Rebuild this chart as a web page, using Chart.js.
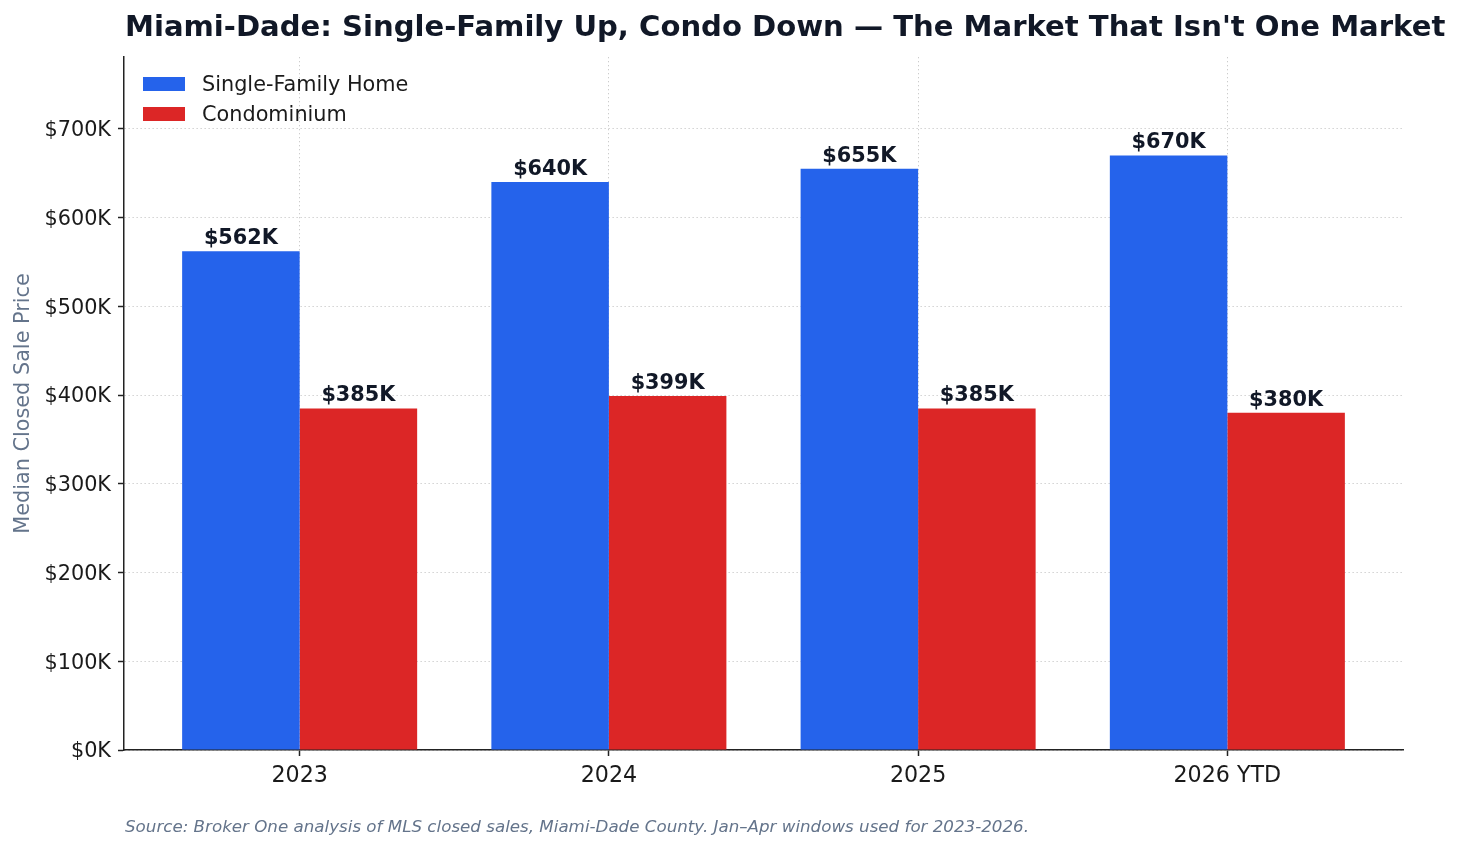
<!DOCTYPE html>
<html>
<head>
<meta charset="utf-8">
<script src="https://cdn.jsdelivr.net/npm/chart.js@4/dist/chart.umd.min.js"></script>
<style>
  html, body { margin: 0; padding: 0; background: #fff; }
  #wrap { width: 1462px; height: 852px; }
</style>
</head>
<body>
<div id="wrap"><canvas id="chart" width="1462" height="852"></canvas></div>
<script>
const years = ['2023', '2024', '2025', '2026 YTD'];
const singleFamily = [562000, 640000, 655000, 670000];
const condo = [385000, 399000, 385000, 380000];
const yTicks = [0, 100000, 200000, 300000, 400000, 500000, 600000, 700000];

const TITLE = "Miami-Dade: Single-Family Up, Condo Down \u2014 The Market That Isn't One Market";
const SOURCE = "Source: Broker One analysis of MLS closed sales, Miami-Dade County. Jan\u2013Apr windows used for 2023-2026.";
const FONT = "'DejaVu Sans', Verdana, sans-serif";

const fmtK = v => '$' + Math.round(v / 1000) + 'K';

// title, legend, value labels and source line drawn on top of everything
const decor = {
  id: 'decor',
  afterDraw(c) {
    const ctx = c.ctx, area = c.chartArea;
    ctx.save();
    // value labels
    ctx.font = `bold 20.8px ${FONT}`;
    ctx.fillStyle = '#111827';
    ctx.textAlign = 'center';
    ctx.textBaseline = 'alphabetic';
    c.data.datasets.forEach((ds, i) => {
      c.getDatasetMeta(i).data.forEach((bar, j) => {
        ctx.fillText(fmtK(ds.data[j].y), bar.x, bar.y - 7);
      });
    });
    // legend
    ctx.textAlign = 'left';
    ctx.textBaseline = 'middle';
    ctx.font = `20.8px ${FONT}`;
    c.data.datasets.forEach((ds, i) => {
      ctx.fillStyle = ds.backgroundColor;
      ctx.fillRect(area.left + 19, 77 + i * 30, 42, 14);
      ctx.fillStyle = '#1a1a1a';
      ctx.fillText(ds.label, area.left + 78, 86 + i * 30);
    });
    // title
    ctx.font = `bold 29.1px ${FONT}`;
    ctx.fillStyle = '#111827';
    ctx.fillText(TITLE, area.left + 1, 28);
    // source
    ctx.font = `italic 16.7px ${FONT}`;
    ctx.fillStyle = '#64748b';
    ctx.fillText(SOURCE, area.left + 1, 828);
    ctx.restore();
  }
};

const toPoints = arr => arr.map((v, i) => ({ x: i, y: v }));

const gridOpts = {
  offset: false,
  color: 'rgba(128,128,128,0.4)',
  lineWidth: 1,
  tickColor: '#222',
  tickLength: 6,
  tickWidth: 1.5,
  tickBorderDash: []
};
const borderOpts = { display: true, color: '#222', width: 1.5, dash: [1.3, 2.7] };

new Chart(document.getElementById('chart'), {
  type: 'bar',
  data: {
    datasets: [
      { label: 'Single-Family Home', data: toPoints(singleFamily), backgroundColor: '#2563eb' },
      { label: 'Condominium', data: toPoints(condo), backgroundColor: '#dc2626' }
    ]
  },
  options: {
    responsive: false,
    animation: false,
    events: [],
    datasets: { bar: { barPercentage: 1, categoryPercentage: 0.76 } },
    layout: { padding: { top: 57, right: 59, bottom: 42, left: 0 } },
    plugins: { legend: { display: false }, tooltip: { enabled: false } },
    scales: {
      x: {
        type: 'linear',
        offset: false,
        z: 1,
        min: -0.568,
        max: 3.568,
        afterBuildTicks: s => { s.ticks = years.map((_, i) => ({ value: i })); },
        afterFit: s => { s.height = 60; },
        ticks: {
          callback: v => years[v],
          font: { family: FONT, size: 22.2 },
          color: '#1a1a1a',
          padding: 7,
          maxRotation: 0
        },
        grid: gridOpts,
        border: borderOpts
      },
      y: {
        min: 0,
        max: 781000,
        z: 1,
        afterBuildTicks: s => { s.ticks = yTicks.map(v => ({ value: v })); },
        afterFit: s => { s.width = 124; },
        ticks: {
          callback: v => fmtK(v),
          font: { family: FONT, size: 20.8 },
          color: '#1a1a1a',
          padding: 7,
          labelOffset: 2
        },
        grid: gridOpts,
        border: borderOpts,
        title: {
          display: true,
          text: 'Median Closed Sale Price',
          font: { family: FONT, size: 20.8 },
          color: '#64748b',
          padding: { top: 11, bottom: 0 }
        }
      }
    }
  },
  plugins: [decor]
});
</script>
</body>
</html>
